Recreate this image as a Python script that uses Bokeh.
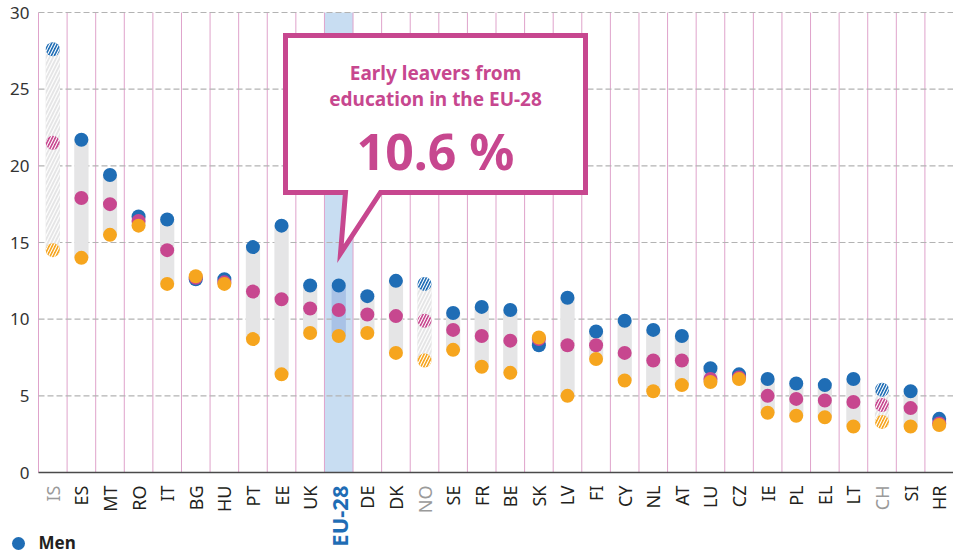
from bokeh.plotting import figure
from bokeh.models import ColumnDataSource, Range1d
from bokeh.core.properties import value, field
from bokeh.embed import file_html
from bokeh.resources import INLINE

countries = ["IS", "ES", "MT", "RO", "IT", "BG", "HU", "PT", "EE", "UK", "EU-28", "DE", "DK", "NO",
             "SE", "FR", "BE", "SK", "LV", "FI", "CY", "NL", "AT", "LU", "CZ", "IE", "PL", "EL",
             "LT", "CH", "SI", "HR"]
men = [27.6, 21.7, 19.4, 16.7, 16.5, 12.6, 12.6, 14.7, 16.1, 12.2, 12.2, 11.5, 12.5, 12.3,
       10.4, 10.8, 10.6, 8.3, 11.4, 9.2, 9.9, 9.3, 8.9, 6.8, 6.4, 6.1, 5.8, 5.7,
       6.1, 5.4, 5.3, 3.5]
total = [21.5, 17.9, 17.5, 16.4, 14.5, 12.7, 12.4, 11.8, 11.3, 10.7, 10.6, 10.3, 10.2, 9.9,
         9.3, 8.9, 8.6, 8.7, 8.3, 8.3, 7.8, 7.3, 7.3, 6.1, 6.2, 5.0, 4.8, 4.7,
         4.6, 4.4, 4.2, 3.2]
women = [14.5, 14.0, 15.5, 16.1, 12.3, 12.8, 12.3, 8.7, 6.4, 9.1, 8.9, 9.1, 7.8, 7.3,
         8.0, 6.9, 6.5, 8.8, 5.0, 7.4, 6.0, 5.3, 5.7, 5.9, 6.1, 3.9, 3.7, 3.6,
         3.0, 3.3, 3.0, 3.1]
estimated = ["IS", "NO", "CH"]
highlight = "EU-28"
y_ticks = [0, 5, 10, 15, 20, 25, 30]
y_tick_labels = ["0", "5", "10", "15", "20", "25", "30"]
callout_title = ["Early leavers from", "education in the EU-28"]
callout_value = "10.6 %"
legend_label = "Men"

BLUE = "#1f6db5"
PINK = "#c7478f"
ORANGE = "#f6a51e"
FONT = "Noto Sans"

W, H = 953, 555
# plot-area geometry in pixels (frame covers whole canvas; data area inset)
LEFT_PX, TOP_PX, ZERO_PX = 38, 12, 472
n = len(countries)
px_cat = (W - LEFT_PX) / n
px_unit = (ZERO_PX - TOP_PX) / 30.0
x_start = -LEFT_PX / px_cat
y_end = 30 + TOP_PX / px_unit
y_start = -(H - ZERO_PX) / px_unit

def X(px):  # pixel -> data x
    return x_start + px / px_cat

def Y(py):  # pixel -> data y
    return (ZERO_PX - py) / px_unit

xs = [i + 0.5 for i in range(n)]
lo = [min(a, b, c) for a, b, c in zip(men, total, women)]
hi = [max(a, b, c) for a, b, c in zip(men, total, women)]
hatch = ["/" if c in estimated else " " for c in countries]
bar_color = ["#a9c2e6" if c == highlight else "#e5e5e6" for c in countries]

src = ColumnDataSource(dict(x=xs, country=countries, men=men, total=total, women=women,
                            lo=lo, hi=hi, hatch=hatch, bar_color=bar_color))

p = figure(width=W, height=H, output_backend="svg", toolbar_location=None,
           x_range=Range1d(x_start, n), y_range=Range1d(y_start, y_end), min_border=0)
p.outline_line_color = None
p.xaxis.visible = False
p.yaxis.visible = False
p.xgrid.visible = False
p.ygrid.visible = False

# EU-28 highlight column
hi_idx = countries.index(highlight)
p.quad(left=[hi_idx], right=[hi_idx + 1], bottom=[0], top=[30], fill_color="#c8ddf2", line_color=None)

# vertical category separators
bounds = list(range(n + 1))
p.segment(x0=bounds, x1=bounds, y0=[0] * len(bounds), y1=[30] * len(bounds),
          line_color="#dfa3cb", line_width=1)
# horizontal dashed grid
grid_y = [t for t in y_ticks if t > 0]
p.segment(x0=[0] * len(grid_y), x1=[n] * len(grid_y), y0=grid_y, y1=grid_y,
          line_color="#b3b3b3", line_width=1.2, line_dash="6 3")
# x axis line
p.segment(x0=[0], x1=[n], y0=[0], y1=[0], line_color="#4a4a4a", line_width=1.5)

# y tick labels
p.text(x=[X(29)] * len(y_ticks), y=y_ticks, text=y_tick_labels, text_color="#333333",
       text_font=value(FONT), text_font_size="17px", text_align="right", text_baseline="middle")

# range bars
p.vbar(x="x", bottom="lo", top="hi", width=0.5, fill_color="bar_color", line_color=None,
       hatch_pattern=field("hatch"), hatch_color="white", hatch_alpha=0.9,
       hatch_weight=1.3, hatch_scale=7, source=src)

# dots
for col, color in (("men", BLUE), ("total", PINK), ("women", ORANGE)):
    p.scatter(x="x", y=col, size=14, fill_color=color, line_color=None,
              hatch_pattern=field("hatch"), hatch_color="white", hatch_weight=1.1,
              hatch_scale=6, source=src)

# callout box
L, R, T, B = X(285), X(585), Y(35), Y(192)
px1, px2, tipx, tipy = X(345), X(380), X(340), Y(253)
p.patch(x=[L, R, R, px2, tipx, px1, L], y=[T, T, B, B, tipy, B, B],
        fill_color="white", line_color=PINK, line_width=5, line_join="miter")
cx = (L + R) / 2
p.text(x=[cx, cx], y=[Y(72), Y(98)], text=callout_title, text_color=PINK,
       text_font=value(FONT), text_font_size="19px", text_font_style="bold",
       text_align="center", text_baseline="middle")
p.text(x=[cx], y=[Y(150)], text=[callout_value], text_color=PINK,
       text_font=value(FONT), text_font_size="50px", text_font_style="bold",
       text_align="center", text_baseline="middle")

# category labels (rotated, below axis)
def label_group(names, color, size, style):
    idx = [i for i, c in enumerate(countries) if c in names]
    p.text(x=[xs[i] for i in idx], y=[Y(485)] * len(idx), text=[countries[i] for i in idx],
           angle=1.5708, text_align="right", text_baseline="middle", text_color=color,
           text_font=value(FONT), text_font_size=size, text_font_style=style)

normal = [c for c in countries if c not in estimated and c != highlight]
label_group(normal, "#231f20", "18px", "normal")
label_group(estimated, "#9a9a9a", "18px", "normal")
label_group([highlight], BLUE, "22px", "bold")

# legend (Men)
p.scatter(x=[X(18)], y=[Y(543)], size=13, fill_color=BLUE, line_color=None)
p.text(x=[X(38)], y=[Y(542)], text=[legend_label], text_color="#231f20",
       text_font=value(FONT), text_font_size="17px", text_font_style="bold",
       text_align="left", text_baseline="middle")

open("out.html", "w").write(file_html(p, INLINE))
